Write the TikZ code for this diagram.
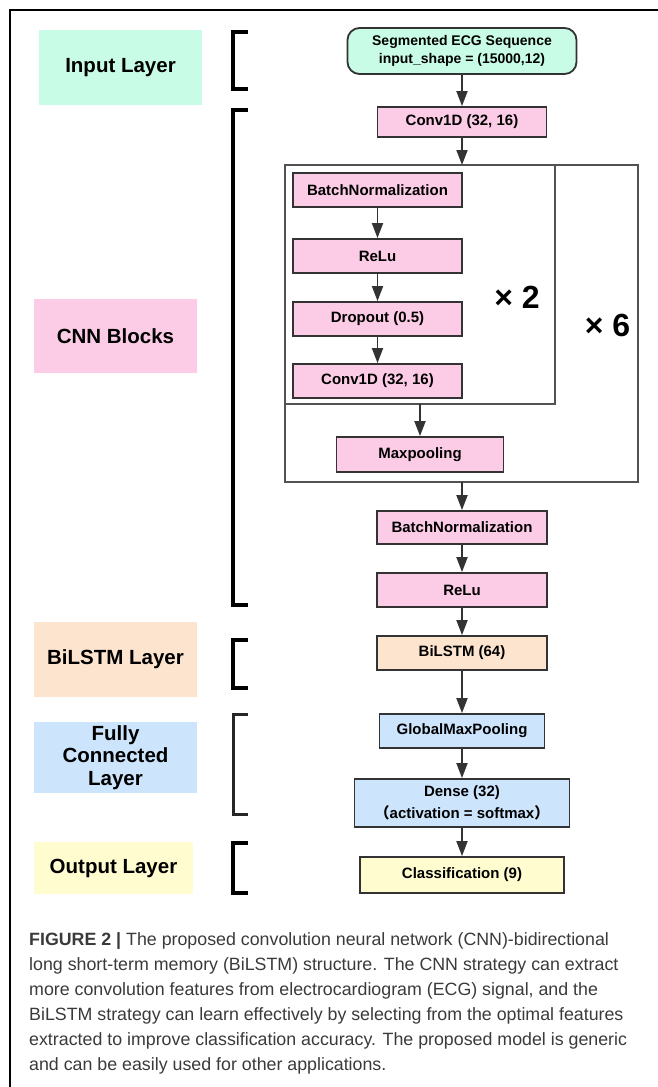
\documentclass[tikz,border=0pt]{standalone}
\usepackage{fontspec}
\setmainfont{Liberation Sans}
\newfontfamily\cjk{Noto Sans CJK SC}
\usetikzlibrary{arrows.meta}
\definecolor{mint}{HTML}{C9FCE6}
\definecolor{blockpink}{HTML}{FCCCE6}
\definecolor{peach}{HTML}{FDE4CE}
\definecolor{skyblue}{HTML}{CCE5FD}
\definecolor{paleyellow}{HTML}{FFFDD0}
\definecolor{edge}{HTML}{333333}
\definecolor{captiongray}{HTML}{3A3A3A}

\begin{document}
\begin{tikzpicture}[x=1pt, y=-1pt,
        layer/.style={draw=edge, line width=1.8pt, inner sep=0pt, align=center,
            font=\fontsize{15}{19}\selectfont\bfseries},
        tag/.style={inner sep=0pt, align=center, font=\fontsize{20.5}{22.5}\selectfont\bfseries},
        flow/.style={draw=edge, line width=1.8pt, -{Triangle[length=15pt, width=11pt]}},
        layerbracket/.style={line width=3.5pt},
        group/.style={draw=edge!85, line width=1.6pt},
        repeat/.style={inner sep=0pt, font=\fontsize{32}{36}\selectfont\bfseries}]
        \useasboundingbox (0,0) rectangle (658,1087);

        % Frame
        \draw[line width=1.5pt] (10,1087) -- (10,10) -- (658,10);

        % Coordinates
        \coordinate (outerTop) at (462,165);
        \coordinate (innerBottom) at (420,404);
        \coordinate (outerBottom) at (462,482);

        % Left labels
        \node[tag, fill=mint, minimum width=163pt, minimum height=75pt] (lblInput) at (120.5,67.5) {Input Layer};
        \node[tag, fill=blockpink, minimum width=163pt, minimum height=74pt] (lblCnn) at (115.5,336) {CNN Blocks};
        \node[tag, fill=peach, minimum width=163pt, minimum height=75pt] (lblBilstm) at (115.5,659.5) {BiLSTM Layer};
        \node[tag, fill=skyblue, minimum width=163pt, minimum height=71pt] (lblFc) at (115.5,757.5) {Fully\\Connected\\Layer};
        \node[tag, fill=paleyellow, minimum width=159pt, minimum height=52pt] (lblOut) at (113.5,868) {Output Layer};

        % Brackets
        \draw[layerbracket] (248,32) -- (233,32) -- (233,89) -- (248,89);
        \draw[layerbracket] (248,110) -- (233,110) -- (233,605) -- (248,605);
        \draw[layerbracket] (248,640) -- (233,640) -- (233,688) -- (248,688);
        \draw[layerbracket, line width=3pt, draw=black!85] (248,714) -- (233,714) -- (233,814) -- (248,814);
        \draw[layerbracket] (248,843) -- (233,843) -- (233,893) -- (248,893);

        % Repeat boxes
        \draw[group] (285,165) rectangle (638,482);
        \draw[group] (285,165) rectangle (555,404);
        \node[repeat] (times2) at (517,297) {× 2};
        \node[repeat] (times6) at (607.5,325) {× 6};

        % Layers
        \node[layer, fill=mint, rounded corners=12pt, minimum width=229pt, minimum height=46pt,
            font=\fontsize{14}{18}\selectfont\bfseries] (seg) at (462,51) {Segmented ECG Sequence\\input\_shape = (15000,12)};
        \node[layer, fill=blockpink, minimum width=169pt, minimum height=30pt] (conv0) at (462,122) {Conv1D (32, 16)};
        \node[layer, fill=blockpink, minimum width=169pt, minimum height=34pt] (bn1) at (377.5,190) {BatchNormalization};
        \node[layer, fill=blockpink, minimum width=169pt, minimum height=34pt] (relu1) at (377.5,256) {ReLu};
        \node[layer, fill=blockpink, minimum width=169pt, minimum height=34pt] (drop) at (377.5,319) {Dropout (0.5)};
        \node[layer, fill=blockpink, minimum width=169pt, minimum height=34pt] (conv1) at (377.5,381) {Conv1D (32, 16)};
        \node[layer, fill=blockpink, minimum width=167pt, minimum height=35pt] (maxp) at (420,454.5) {Maxpooling};
        \node[layer, fill=blockpink, minimum width=170pt, minimum height=33pt] (bn2) at (462,527.5) {BatchNormalization};
        \node[layer, fill=blockpink, minimum width=170pt, minimum height=34pt] (relu2) at (462,590) {ReLu};
        \node[layer, fill=peach, minimum width=170pt, minimum height=34pt] (bilstm) at (462,653) {BiLSTM (64)};
        \node[layer, fill=skyblue, minimum width=165pt, minimum height=34pt] (gmp) at (462,731) {GlobalMaxPooling};
        \node[layer, fill=skyblue, minimum width=215pt, minimum height=48pt,
            font=\fontsize{15}{22}\selectfont\bfseries] (dense) at (462,803) {Dense (32)\\{\cjk （}activation = softmax{\cjk ）}};
        \node[layer, fill=paleyellow, minimum width=204pt, minimum height=36pt] (cls) at (462,875) {Classification (9)};

        % Drawing
        \draw[flow] (seg) -- (conv0);
        \draw[flow] (conv0) -- (outerTop);
        \draw[flow] (bn1) -- (relu1);
        \draw[flow] (relu1) -- (drop);
        \draw[flow] (drop) -- (conv1);
        \draw[flow] (innerBottom) -- (maxp);
        \draw[flow] (outerBottom) -- (bn2);
        \draw[flow] (bn2) -- (relu2);
        \draw[flow] (relu2) -- (bilstm);
        \draw[flow] (bilstm) -- (gmp);
        \draw[flow] (gmp) -- (dense);
        \draw[flow] (dense) -- (cls);

        % Caption
        \node[anchor=north west, inner sep=0pt, align=left, text=captiongray,
            font=\fontsize{17.8}{25}\selectfont] (caption) at (29,932)
            {\textbf{FIGURE 2 |} The proposed convolution neural network (CNN)-bidirectional\\
            long short-term memory (BiLSTM) structure. The CNN strategy can extract\\
            more convolution features from electrocardiogram (ECG) signal, and the\\
            BiLSTM strategy can learn effectively by selecting from the optimal features\\
            extracted to improve classification accuracy. The proposed model is generic\\
            and can be easily used for other applications.};
    \end{tikzpicture}
\end{document}
